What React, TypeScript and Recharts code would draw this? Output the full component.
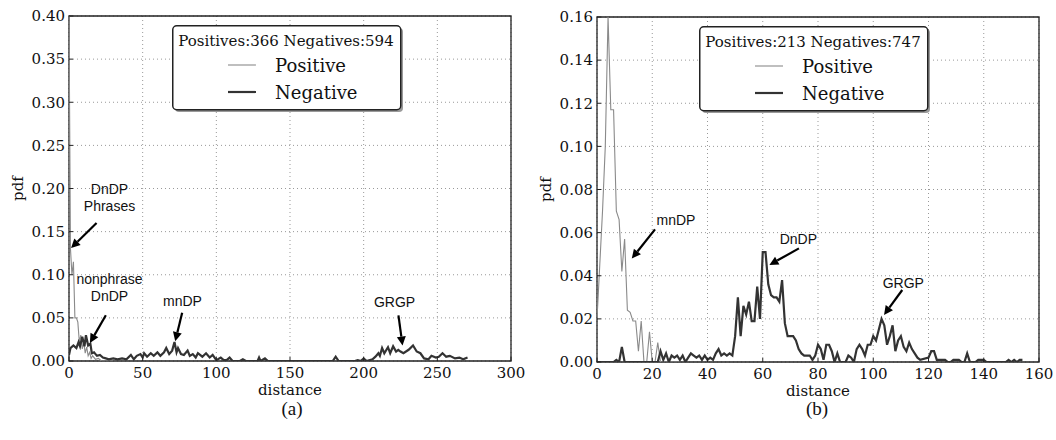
import React from 'react';
import { LineChart, Line, XAxis, YAxis, CartesianGrid, Legend, ReferenceLine, ReferenceDot, ReferenceArea, Label } from 'recharts';

// [distance, pdf] pairs
const leftPositive: [number, number][] = [
  [0, 0.4], [1, 0.13], [2, 0.1], [3, 0.115], [4, 0.05], [5, 0.05], [6, 0.045], [7, 0.022], [8, 0.03],
  [9, 0.014], [10, 0.022], [11, 0.009], [12, 0.016], [13, 0.006], [14, 0.01], [15, 0.003], [16, 0.006],
  [18, 0.002], [20, 0.003], [22, 0], [30, 0],
];
const leftNegative: [number, number][] = [
  [0, 0.007], [1, 0.015], [3, 0.018], [5, 0.015], [6.5, 0.022], [7.5, 0.017], [9, 0.028], [10.5, 0.017],
  [11.5, 0.03], [13, 0.018], [14.5, 0.02], [15.5, 0.009], [17, 0.01], [18, 0.008], [19, 0.006], [21, 0.007],
  [23, 0.004], [25, 0.003], [27, 0.002], [30, 0.003], [33, 0.002], [36, 0.003], [39, 0.002], [42, 0.007],
  [44, 0.002], [46, 0.006], [48.5, 0.008], [50, 0.004], [51, 0.009], [53, 0.005], [55.5, 0.009],
  [57.5, 0.006], [60, 0.01], [62, 0.006], [64.5, 0.01], [66, 0.015], [68, 0.008], [70, 0.012],
  [71.6, 0.022], [73, 0.01], [74, 0.015], [76, 0.008], [78, 0.007], [80.5, 0.012], [82, 0.006],
  [84, 0.008], [86, 0.004], [87.5, 0.009], [90.5, 0.005], [93, 0.009], [95.5, 0.004], [97.5, 0.007],
  [100, 0.001], [103, 0.004], [105, 0.001], [107, 0.001], [109, 0.004], [111, 0], [116, 0], [118, 0.002],
  [120, 0], [128, 0], [129, 0.004], [130, 0], [133, 0.003], [135, 0], [179, 0], [181, 0.005], [183, 0],
  [194, 0], [196, 0.001], [198, 0], [200, 0.003], [202, 0], [206, 0.002], [208, 0.005], [210, 0.009],
  [211, 0.006], [212.5, 0.015], [214, 0.009], [216.5, 0.016], [218, 0.009], [220, 0.017], [222, 0.011],
  [223.5, 0.013], [225, 0.011], [227, 0.009], [230.5, 0.013], [233.5, 0.018], [236, 0.011],
  [238.5, 0.009], [241, 0.003], [244, 0.002], [246, 0.006], [249, 0.004], [251, 0.005], [253.5, 0.009],
  [256, 0.005], [258.5, 0.006], [262, 0.003], [265, 0.004], [267.5, 0.002], [270.5, 0.004],
];
const rightPositive: [number, number][] = [
  [0, 0.02], [1, 0.045], [2, 0.07], [3, 0.1], [4, 0.16], [5, 0.117], [6, 0.117], [7, 0.07], [8, 0.066],
  [9, 0.042], [10, 0.057], [11, 0.024], [12, 0.023], [13, 0.019], [14, 0.019], [15, 0.005], [16, 0.019],
  [17, 0], [18, 0], [19, 0.014], [20, 0], [21, 0], [22, 0.009], [23, 0], [30, 0],
];
const rightNegative: [number, number][] = [
  [0, 0], [6, 0], [7, 0.001], [8, 0], [9, 0.007], [10, 0], [22, 0], [23, 0.005], [24, 0.001], [25, 0.004],
  [26, 0], [27, 0.003], [28, 0.002], [29, 0.003], [30, 0.001], [31, 0.003], [32, 0], [33, 0.002],
  [34, 0.004], [35, 0.003], [36, 0.002], [37, 0.003], [38, 0.001], [39, 0.003], [40, 0.001], [41, 0.002],
  [42, 0.001], [43, 0.004], [44, 0.006], [45, 0.003], [46, 0.004], [47, 0.003], [48, 0.004], [49, 0.003],
  [50, 0.012], [51, 0.03], [52, 0.012], [53, 0.026], [54, 0.022], [55, 0.028], [56, 0.019], [57, 0.019],
  [58, 0.035], [59, 0.02], [60, 0.051], [61, 0.051], [62, 0.036], [63, 0.031], [64, 0.03], [65, 0.03],
  [66, 0.028], [67, 0.038], [68, 0.018], [69, 0.012], [70, 0.012], [71, 0.012], [72, 0.01], [73, 0.006],
  [74, 0.004], [75, 0.003], [76, 0.003], [77, 0.003], [78, 0.001], [79, 0.003], [80, 0.008], [81, 0.006],
  [82, 0.001], [83, 0.008], [84, 0.008], [85, 0.005], [86, 0], [87, 0.004], [88, 0], [90, 0], [91, 0.003],
  [92, 0.002], [93, 0], [94, 0.006], [95, 0.008], [96, 0.006], [97, 0.003], [98, 0.008], [99, 0.008],
  [100, 0.012], [101, 0.01], [102, 0.015], [103, 0.02], [104, 0.017], [105, 0.008], [106, 0.012],
  [107, 0.017], [108, 0.005], [109, 0.01], [110, 0.012], [111, 0.007], [112, 0.005], [113, 0.009],
  [114, 0.006], [115, 0.004], [116, 0.002], [117, 0.001], [120, 0.002], [121, 0.005], [122, 0.005],
  [123, 0.001], [126, 0.001], [127, 0], [128, 0], [129, 0.001], [131, 0.001], [132, 0], [133, 0],
  [134, 0.004], [135, 0], [137, 0], [138, 0.001], [140, 0.001], [141, 0], [148, 0], [149, 0.001],
  [150, 0], [151, 0.001], [152, 0], [153, 0.001], [154, 0.001],
];

const leftTicksX = [0, 50, 100, 150, 200, 250, 300];
const leftTicksY = [0, 0.05, 0.1, 0.15, 0.2, 0.25, 0.3, 0.35, 0.4];
const rightTicksX = [0, 20, 40, 60, 80, 100, 120, 140, 160];
const rightTicksY = [0, 0.02, 0.04, 0.06, 0.08, 0.1, 0.12, 0.14, 0.16];

// annotation text (data coords) and arrows [from, to]
const leftNotes = [
  { lines: ['DnDP', 'Phrases'], x: 27.5, y: 0.19 },
  { lines: ['nonphrase', 'DnDP'], x: 27.5, y: 0.085 },
  { lines: ['mnDP'], x: 77, y: 0.069 },
  { lines: ['GRGP'], x: 221, y: 0.068 },
];
const leftArrows: [number, number, number, number][] = [
  [18.7, 0.16, 1.4, 0.131],
  [25, 0.053, 14.2, 0.021],
  [76.8, 0.056, 72.1, 0.023],
  [223.6, 0.053, 226.4, 0.018],
];
const rightNotes = [
  { lines: ['mnDP'], x: 28.6, y: 0.066 },
  { lines: ['DnDP'], x: 72.9, y: 0.057 },
  { lines: ['GRGP'], x: 110.9, y: 0.0365 },
];
const rightArrows: [number, number, number, number][] = [
  [21, 0.0615, 12.6, 0.048],
  [73.1, 0.0527, 62.4, 0.045],
  [110.5, 0.0334, 103.9, 0.0218],
];

const SERIF = '"DejaVu Serif", serif';
const POS_COLOR = '#8a8a8a';
const NEG_COLOR = '#333333';
const SERIES_ORDER = ['Positive', 'Negative'];

const toRows = (pts: [number, number][]) => pts.map(([d, v]) => ({ d, v }));

const arrowShape = (p: any) => {
  const { x1, y1, x2, y2 } = p;
  const a = Math.atan2(y2 - y1, x2 - x1);
  const L = 9, W = 4.5;
  const bx = x2 - L * Math.cos(a), by = y2 - L * Math.sin(a);
  const pts = `${x2},${y2} ${bx + W * Math.sin(a)},${by - W * Math.cos(a)} ${bx - W * Math.sin(a)},${by + W * Math.cos(a)}`;
  return (
    <g>
      <line x1={x1} y1={y1} x2={bx} y2={by} stroke="#000" strokeWidth={2.2} />
      <polygon points={pts} fill="#000" />
    </g>
  );
};

const noteShape = (lines: string[]) => (p: any) => (
  <text x={p.cx} y={p.cy - ((lines.length - 1) * 17) / 2} textAnchor="middle" dominantBaseline="central"
    fontFamily='"Liberation Sans", Arial, sans-serif' fontSize={14} fill="#111">
    {lines.map((l, i) => (
      <tspan key={i} x={p.cx} dy={i === 0 ? 0 : 17}>{l}</tspan>
    ))}
  </text>
);

const LegendBox = ({ title, payload }: any) => {
  const items = [...(payload || [])].sort((a: any, b: any) => SERIES_ORDER.indexOf(a.value) - SERIES_ORDER.indexOf(b.value));
  return (
    <svg width={233} height={90}>
      <rect x={3} y={3} width={228} height={84} rx={4} fill="#9a9a9a" />
      <rect x={0.75} y={0.75} width={228} height={84} rx={4} fill="#fff" stroke="#222" strokeWidth={1.5} />
      <text x={114} y={16} textAnchor="middle" dominantBaseline="central" fontFamily={SERIF} fontSize={15} fill="#111">{title}</text>
      {items.map((e: any, i: number) => (
        <g key={i}>
          <line x1={56} x2={84} y1={40 + i * 27} y2={40 + i * 27} stroke={e.color}
            strokeWidth={e.value === 'Negative' ? 2.2 : 1.1} />
          <text x={103} y={40 + i * 27} dominantBaseline="central" fontFamily={SERIF} fontSize={18} fill="#111">{e.value}</text>
        </g>
      ))}
    </svg>
  );
};

const AxisTitle = (text: string, rotate: boolean, dx: number, dy: number) => (p: any) => {
  const vb = p.viewBox;
  const x = rotate ? vb.x + dx : vb.x + vb.width / 2;
  const y = rotate ? vb.y + vb.height / 2 : vb.y + dy;
  return (
    <text x={x} y={y} textAnchor="middle" dominantBaseline="central" fontFamily={SERIF} fontSize={15} fill="#111"
      transform={rotate ? `rotate(-90, ${x}, ${y})` : undefined}>{text}</text>
  );
};

interface PanelProps {
  left: number;
  top: number;
  bottom: number;
  pos: [number, number][];
  neg: [number, number][];
  xTicks: number[];
  yTicks: number[];
  title: string;
  notes: { lines: string[]; x: number; y: number }[];
  arrows: [number, number, number, number][];
  legendLeft: number;
  caption: string;
  captionX: number;
}

const tickLineStyle = { stroke: '#222', strokeWidth: 1 };
const tickFont = { fontSize: 15, fill: '#111', fontFamily: SERIF };

const Panel = ({ left, top, bottom, pos, neg, xTicks, yTicks, title, notes, arrows, legendLeft, caption, captionX }: PanelProps) => {
  const xMax = xTicks[xTicks.length - 1];
  const yMax = yTicks[yTicks.length - 1];
  return (
    <div style={{ position: 'absolute', left, top: 0, width: 528, height: 440 }}>
      <LineChart width={528} height={400} margin={{ top, right: 17, left: 19, bottom }}>
        <CartesianGrid stroke="#999" strokeDasharray="1 3" />
        <XAxis dataKey="d" type="number" domain={[0, xMax]} ticks={xTicks} allowDataOverflow height={30}
          tickLine={tickLineStyle} axisLine={false} tickSize={-4} tickMargin={10} tick={tickFont}>
          <Label content={AxisTitle('distance', false, 0, 29)} />
        </XAxis>
        <XAxis xAxisId="top" orientation="top" dataKey="d" type="number" domain={[0, xMax]} ticks={xTicks}
          allowDataOverflow height={0} tickLine={tickLineStyle} axisLine={false} tickSize={-4}
          tickFormatter={() => ''} />
        <YAxis type="number" domain={[0, yMax]} ticks={yTicks} allowDataOverflow width={50}
          tickLine={tickLineStyle} axisLine={false} tickSize={-4} tickMargin={8}
          tickFormatter={(v: number) => v.toFixed(2)} tick={tickFont}>
          <Label content={AxisTitle('pdf', true, -1, 0)} />
        </YAxis>
        <YAxis yAxisId="right" orientation="right" type="number" domain={[0, yMax]} ticks={yTicks}
          allowDataOverflow width={0} tickLine={tickLineStyle} axisLine={false} tickSize={-4}
          tickFormatter={() => ''} />
        <ReferenceArea x1={0} x2={xMax} y1={0} y2={yMax} fill="none" stroke="#222" strokeWidth={1.3} />
        <Line data={toRows(pos)} dataKey="v" name="Positive" stroke={POS_COLOR} strokeWidth={1.1} dot={false}
          isAnimationActive={false} />
        <Line data={toRows(neg)} dataKey="v" name="Negative" stroke={NEG_COLOR} strokeWidth={2.2} dot={false}
          isAnimationActive={false} />
        {arrows.map((a, i) => (
          <ReferenceLine key={'a' + i} segment={[{ x: a[0], y: a[1] }, { x: a[2], y: a[3] }]} shape={arrowShape} />
        ))}
        {notes.map((n, i) => (
          <ReferenceDot key={'n' + i} x={n.x} y={n.y} r={1} shape={noteShape(n.lines)} />
        ))}
        <Legend layout="horizontal" verticalAlign="middle" align="center"
          wrapperStyle={{ left: legendLeft, top: top + 9, width: 233, height: 90 }}
          content={(p: any) => <LegendBox title={title} payload={p.payload} />} />
      </LineChart>
      <div style={{ position: 'absolute', left: captionX - 100, width: 200, top: 399, height: 20, lineHeight: '20px',
        textAlign: 'center', fontFamily: '"Liberation Serif", "Times New Roman", serif', fontSize: 19, color: '#111' }}>
        {caption}
      </div>
    </div>
  );
};

export default function App() {
  return (
    <div style={{ position: 'fixed', left: 0, top: 0, width: 1056, height: 440, background: '#fff' }}>
      <Panel left={0} top={16} bottom={9} pos={leftPositive} neg={leftNegative} xTicks={leftTicksX} yTicks={leftTicksY}
        title="Positives:366 Negatives:594" notes={leftNotes} arrows={leftArrows} legendLeft={172} caption="(a)" captionX={292} />
      <Panel left={528} top={17} bottom={8} pos={rightPositive} neg={rightNegative} xTicks={rightTicksX} yTicks={rightTicksY}
        title="Positives:213 Negatives:747" notes={rightNotes} arrows={rightArrows} legendLeft={171} caption="(b)" captionX={289} />
    </div>
  );
}
